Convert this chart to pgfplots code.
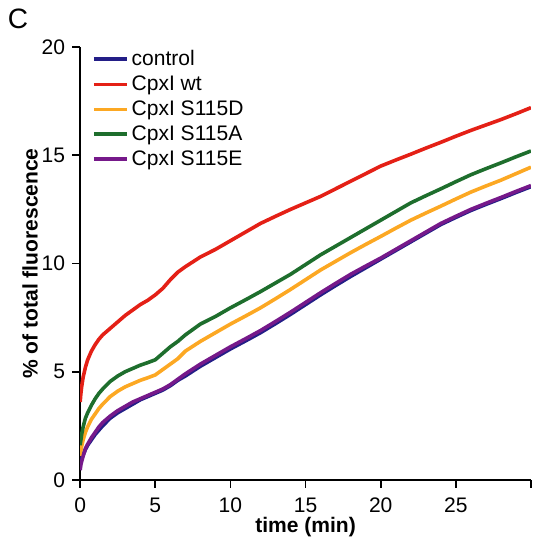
\documentclass[border=0pt]{standalone}
\usepackage{pgfplots}
\pgfplotsset{compat=1.18}
\usepackage{fontspec}
\setmainfont{Liberation Sans}
\definecolor{cctrl}{RGB}{35,30,135}
\definecolor{cwt}{RGB}{228,32,22}
\definecolor{cD}{RGB}{252,168,35}
\definecolor{cA}{RGB}{30,110,45}
\definecolor{cE}{RGB}{118,25,138}
\begin{document}
\begin{tikzpicture}
\useasboundingbox (-40pt,-30pt) rectangle (226pt,239.5pt);
\begin{axis}[
  name=ax, at={(0,0)}, anchor=south west,
  scale only axis, width=225pt, height=216pt,
  xmin=0, xmax=30, ymin=0, ymax=20,
  axis x line*=bottom, axis y line*=left,
  axis line style={line width=0.9pt, -},
  xtick={0,5,10,15,20,25,30}, xticklabels={0,5,10,15,20,25,},
  ytick={0,5,10,15,20},
  tick align=outside, major tick length=4pt,
  tick style={line width=0.9pt, black},
  /pgf/number format/assume math mode=true,
  tick label style={font=\fontsize{10.5}{12}\selectfont},
  xticklabel style={yshift=-1.5pt},
  xlabel={\textbf{time (min)}},
  ylabel={\textbf{\% of total fluorescence}},
  label style={font=\fontsize{10.5}{12}\selectfont},
  xlabel style={at={(axis description cs:0.5,-0.108)}, anchor=center, inner sep=0pt},
  ylabel style={at={(axis description cs:-0.111,0.5)}, anchor=center, rotate=0},
  legend style={at={(axis description cs:0.012,1.01)}, anchor=north west, draw=none, fill=none,
    font=\fontsize{10.5}{12}\selectfont, row sep=0.6pt, nodes={inner sep=1.5pt}},
  legend cell align=left,
  legend image code/.code={\draw[#1, line width=1.8pt] (0pt,0pt) -- (16.5pt,0pt);},
  every axis plot/.append style={line width=1.8pt, line join=round},
]
\addplot[cctrl] coordinates {(0,0.8)(0.05,0.9)(0.1,1.0)(0.2,1.15)(0.35,1.4)(0.5,1.6)(0.75,1.85)(1,2.1)(1.25,2.3)(1.5,2.5)(2,2.85)(2.5,3.1)(3,3.3)(3.5,3.5)(4,3.7)(4.5,3.85)(5,4.0)(5.5,4.15)(6,4.35)(6.5,4.6)(7,4.8)(8,5.25)(9,5.65)(10,6.05)(11,6.42)(12,6.8)(13,7.22)(14,7.65)(15,8.1)(16,8.55)(17,8.98)(18,9.4)(19,9.8)(20,10.2)(21,10.6)(22,11.0)(23,11.4)(24,11.8)(25,12.13)(26,12.45)(27,12.73)(28,13.0)(29,13.28)(30,13.55)};
\addlegendentry{control}
\addplot[cwt] coordinates {(0,3.6)(0.05,4.0)(0.1,4.3)(0.2,4.75)(0.35,5.2)(0.5,5.55)(0.75,5.95)(1,6.25)(1.25,6.5)(1.5,6.7)(2,7.0)(2.5,7.3)(3,7.6)(3.5,7.85)(4,8.1)(4.5,8.3)(5,8.55)(5.5,8.85)(6,9.25)(6.5,9.6)(7,9.85)(8,10.3)(9,10.65)(10,11.05)(11,11.45)(12,11.85)(13,12.18)(14,12.5)(15,12.8)(16,13.1)(17,13.45)(18,13.8)(19,14.15)(20,14.5)(21,14.78)(22,15.05)(23,15.33)(24,15.6)(25,15.88)(26,16.15)(27,16.4)(28,16.65)(29,16.92)(30,17.2)};
\addlegendentry{CpxI wt}
\addplot[cD] coordinates {(0,1.1)(0.05,1.35)(0.1,1.55)(0.2,1.85)(0.35,2.2)(0.5,2.45)(0.75,2.8)(1,3.05)(1.25,3.3)(1.5,3.5)(2,3.85)(2.5,4.1)(3,4.3)(3.5,4.45)(4,4.6)(4.5,4.72)(5,4.85)(5.5,5.1)(6,5.35)(6.5,5.6)(7,5.95)(8,6.4)(9,6.8)(10,7.2)(11,7.57)(12,7.95)(13,8.37)(14,8.8)(15,9.25)(16,9.7)(17,10.1)(18,10.5)(19,10.88)(20,11.25)(21,11.63)(22,12.0)(23,12.33)(24,12.65)(25,12.98)(26,13.3)(27,13.58)(28,13.85)(29,14.15)(30,14.45)};
\addlegendentry{CpxI S115D}
\addplot[cA] coordinates {(0,1.6)(0.05,1.85)(0.1,2.1)(0.2,2.45)(0.35,2.85)(0.5,3.1)(0.75,3.45)(1,3.75)(1.25,4.0)(1.5,4.2)(2,4.55)(2.5,4.8)(3,5.0)(3.5,5.15)(4,5.3)(4.5,5.42)(5,5.55)(5.5,5.85)(6,6.15)(6.5,6.4)(7,6.7)(8,7.2)(9,7.55)(10,7.95)(11,8.32)(12,8.7)(13,9.1)(14,9.5)(15,9.95)(16,10.4)(17,10.8)(18,11.2)(19,11.6)(20,12.0)(21,12.4)(22,12.8)(23,13.13)(24,13.45)(25,13.78)(26,14.1)(27,14.38)(28,14.65)(29,14.93)(30,15.2)};
\addlegendentry{CpxI S115A}
\addplot[cE] coordinates {(0,0.45)(0.05,0.7)(0.1,0.85)(0.2,1.1)(0.35,1.45)(0.5,1.65)(0.75,1.95)(1,2.2)(1.25,2.45)(1.5,2.65)(2,2.95)(2.5,3.2)(3,3.4)(3.5,3.6)(4,3.75)(4.5,3.9)(5,4.05)(5.5,4.2)(6,4.4)(6.5,4.65)(7,4.9)(8,5.35)(9,5.75)(10,6.15)(11,6.52)(12,6.9)(13,7.32)(14,7.75)(15,8.2)(16,8.65)(17,9.08)(18,9.5)(19,9.88)(20,10.25)(21,10.65)(22,11.05)(23,11.45)(24,11.85)(25,12.18)(26,12.5)(27,12.78)(28,13.05)(29,13.33)(30,13.6)};
\addlegendentry{CpxI S115E}
\end{axis}
\node[font=\fontsize{14}{16}\selectfont, anchor=center] at ([xshift=-31pt,yshift=14pt]ax.north west) {C};
\end{tikzpicture}
\end{document}
